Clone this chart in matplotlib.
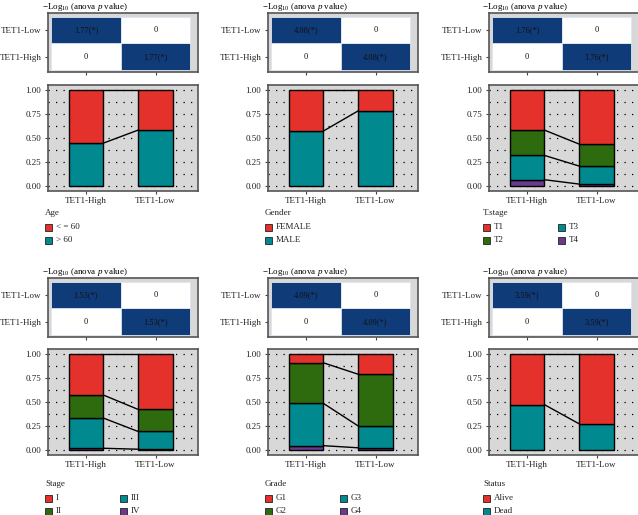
import numpy as np
import matplotlib
matplotlib.use("Agg")
from matplotlib import pyplot as plt
from matplotlib.patches import Rectangle

plt.rcParams["font.family"] = ["Liberation Serif", "DejaVu Serif"]
plt.rcParams["mathtext.fontset"] = "custom"
plt.rcParams["mathtext.rm"] = "Liberation Serif"
plt.rcParams["mathtext.it"] = "Liberation Serif:italic"

groups = ["TET1-High", "TET1-Low"]

# one entry per panel: title, levels (legend order, top of stack first), proportions, -log10 p
titles = ["Age", "Gender", "T.stage", "Stage", "Grade", "Status"]
levels = [
    ["< = 60", "> 60"],
    ["FEMALE", "MALE"],
    ["T1", "T2", "T3", "T4"],
    ["I", "II", "III", "IV"],
    ["G1", "G2", "G3", "G4"],
    ["Alive", "Dead"],
]
high = [
    [0.556, 0.444],
    [0.43, 0.57],
    [0.42, 0.264, 0.2535, 0.0625],
    [0.43, 0.24, 0.315, 0.015],
    [0.094, 0.423, 0.441, 0.042],
    [0.53, 0.47],
]
low = [
    [0.42, 0.58],
    [0.22, 0.78],
    [0.566, 0.229, 0.188, 0.017],
    [0.58, 0.23, 0.185, 0.005],
    [0.213, 0.539, 0.228, 0.02],
    [0.73, 0.27],
]
pvals = [1.77, 4.08, 1.76, 1.53, 4.09, 3.59]

colors4 = ["#E5312B", "#2E6A0E", "#008A90", "#6A3B8C"]
colors2 = ["#E5312B", "#008A90"]
blue = "#0F3B78"
bg = "#D8D8D8"
frame = "#555555"

W, H = 638, 515
fig = plt.figure(figsize=(W / 100, H / 100), dpi=100)

col_left = [47.5, 267.5, 488.5]
ax_w = 150
rows = [dict(hm=(13, 72), bar=(85, 190.5), leg=213),
        dict(hm=(278, 337), bar=(349, 454.5), leg=484)]
leg_x = [45, 265, 483]


def px_axes(left, top, bottom):
    return fig.add_axes([left / W, 1 - bottom / H, ax_w / W, (bottom - top) / H])


def style(ax):
    ax.set_facecolor(bg)
    for s in ax.spines.values():
        s.set_color(frame)
        s.set_linewidth(1.2)
    ax.tick_params(length=2.5, width=0.8, color="#444444", labelsize=6.5,
                   labelcolor="#222222", pad=2)


for i in range(6):
    r, c = divmod(i, 3)
    row = rows[r]
    left = col_left[c]
    xlim = (0.446, 2.604)

    # heatmap
    ax = px_axes(left, *row["hm"])
    style(ax)
    v = pvals[i]
    mat = [[0, v], [v, 0]]  # row 1 = TET1-High, row 2 = TET1-Low
    for yi in range(2):
        for xi in range(2):
            val = mat[yi][xi]
            fc = blue if val else "white"
            ax.add_patch(Rectangle((xi + 0.5, yi + 0.5), 1, 1, facecolor=fc,
                                   edgecolor="#DDE6F0", linewidth=0.6))
            txt = "%.2f(*)" % val if val else "0"
            ax.text(xi + 1, yi + 1, txt, ha="center", va="center", fontsize=6,
                    color="#111111")
    ax.set_xlim(*xlim)
    ax.set_ylim(0.425, 2.65)
    ax.set_xticks([1, 2])
    ax.set_xticklabels([])
    ax.set_yticks([1, 2])
    ax.set_yticklabels(groups)
    ax.set_title(r"$-\mathrm{Log}_{10}$ (anova $p$ value)", fontsize=6.5,
                 loc="left", x=-0.04, pad=2.5)

    # stacked bars
    ax = px_axes(left, *row["bar"])
    style(ax)
    cols = colors2 if len(levels[i]) == 2 else colors4
    yt = np.arange(0, 1.001, 0.125)
    for y in yt:
        ax.axhline(y, color="black", linestyle=(0, (1, 5)), linewidth=0.9, zorder=1)
    hv = np.array(high[i][::-1])
    lv = np.array(low[i][::-1])
    cols_r = cols[:len(levels[i])][::-1]
    hb = np.concatenate([[0], np.cumsum(hv)])
    lb = np.concatenate([[0], np.cumsum(lv)])
    for k in range(len(hv)):
        ax.bar([1, 2], [hv[k], lv[k]], bottom=[hb[k], lb[k]], width=0.5,
               color=cols_r[k], edgecolor="black", linewidth=1.0, zorder=2)
    for k in range(1, len(hb)):
        ax.plot([1.25, 1.75], [hb[k], lb[k]], color="black", linewidth=1.0, zorder=3)
    ax.set_xlim(*xlim)
    ax.set_ylim(-0.05, 1.05)
    ax.set_xticks([1, 2])
    ax.set_xticklabels(groups)
    ax.set_yticks([0, 0.25, 0.5, 0.75, 1.0])
    ax.set_yticklabels(["0.00", "0.25", "0.50", "0.75", "1.00"])

    # legend
    lx = leg_x[c]
    ty = row["leg"]
    fig.text(lx / W, 1 - ty / H, titles[i], fontsize=6.5, ha="left", va="center",
             color="#222222")
    n = len(levels[i])
    for k in range(n):
        if n == 2:
            cx, cy = lx, ty + 14 + 13 * k
        else:
            cx, cy = lx + 75 * (k // 2), ty + 14 + 13 * (k % 2)
        fig.patches.append(Rectangle((cx / W, 1 - (cy + 3.5) / H), 7 / W, 7 / H,
                                     facecolor=cols[k], edgecolor="#222222",
                                     linewidth=0.6, transform=fig.transFigure,
                                     figure=fig))
        fig.text((cx + 11) / W, 1 - cy / H, levels[i][k], fontsize=6.5, ha="left",
                 va="center", color="#222222")

fig.savefig("out.png", dpi=100)
